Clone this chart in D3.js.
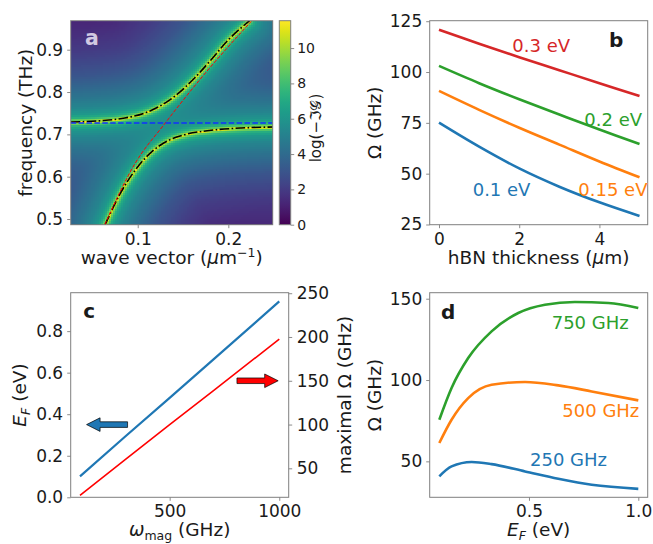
<!DOCTYPE html>
<html>
<head>
<meta charset="utf-8">
<script src="https://cdn.jsdelivr.net/npm/d3@7"></script>
<style>
  body { margin: 0; background: #fff; }
  svg text { font-family: "DejaVu Sans", sans-serif; fill: #1a1a1a; }
</style>
</head>
<body>
<svg id="fig" width="653" height="544"></svg>
<script>
// ---- panel a : polariton branches (k in 1/um, f in THz)
const magnonF = 0.7268
const upperK = [0.026, 0.0599, 0.0857, 0.1077, 0.126, 0.1408, 0.1628, 0.1811, 0.1996, 0.2235]
const upperF = [0.7292, 0.7323, 0.7386, 0.7504, 0.7686, 0.790, 0.8332, 0.8764, 0.9222, 0.9685]
const lowerK = [0.0640, 0.0800, 0.0990, 0.1160, 0.1334, 0.1518, 0.1811, 0.2142, 0.249]
const lowerF = [0.4866, 0.5575, 0.6205, 0.6600, 0.6850, 0.6992, 0.7096, 0.7150, 0.7174]
const plasmonK = [0.0636, 0.0967, 0.1304, 0.1701, 0.2253]
const plasmonF = [0.4866, 0.6300, 0.7268, 0.8332, 0.9670]
// how log(-Im G) falls off with distance (px) from a branch, estimated from the map
const heatDist = [0, 1.5, 4, 8, 15, 25, 45, 70, 100, 140]
const heatLevel = [11.5, 9.2, 7.3, 6.1, 5.2, 4.4, 3.0, 1.8, 0.8, 0.2]
const cbarTicks = [0, 2, 4, 6, 8, 10]

// ---- panel b : Omega vs hBN thickness
const thickness = [0, 1, 2, 3, 4, 5]
const bSeries = [
  { name: '0.3 eV',  color: '#d62728', vals: [120.8, 113.9, 107.3, 100.9, 94.5, 88.2] },
  { name: '0.2 eV',  color: '#2ca02c', vals: [103.0, 94.5, 86.6, 79.1, 71.7, 64.6] },
  { name: '0.15 eV', color: '#ff7f0e', vals: [90.7, 81.4, 72.6, 64.3, 56.0, 48.2] },
  { name: '0.1 eV',  color: '#1f77b4', vals: [75.1, 63.3, 52.6, 43.6, 35.9, 29.2] }
]

// ---- panel c : optimal E_F and maximal Omega vs magnon frequency
const omegaMag = [91, 300, 500, 700, 1000]
const optimalEF = [0.101, 0.295, 0.479, 0.664, 0.943]
const maxOmega = [19.2, 60.5, 99.8, 138.7, 197.6]

// ---- panel d : Omega vs E_F
const dSeries = [
  { name: '750 GHz', color: '#2ca02c',
    ef: [0.09, 0.146, 0.222, 0.329, 0.451, 0.573, 0.71, 0.863, 1.0],
    vals: [75.6, 95.1, 113.5, 129.9, 141.2, 146.3, 148.0, 147.4, 144.3] },
  { name: '500 GHz', color: '#ff7f0e',
    ef: [0.09, 0.146, 0.222, 0.329, 0.482, 0.634, 0.787, 1.0],
    vals: [61.3, 75.6, 88.9, 97.1, 98.8, 96.7, 93.0, 87.5] },
  { name: '250 GHz', color: '#1f77b4',
    ef: [0.09, 0.146, 0.238, 0.329, 0.482, 0.634, 0.787, 1.0],
    vals: [40.8, 46.9, 49.6, 48.3, 43.8, 39.3, 35.6, 33.1] }
]

const svg = d3.select('#fig')
const spine = '#7f7f7f'
const tickFont = 17, labelFont = 18.5, noteFont = 18

const A = { x0: 70.7, x1: 272.7, y0: 20.7, y1: 224.7 }
const B = { x0: 429.7, x1: 647.7, y0: 20.7, y1: 224.7 }
const C = { x0: 70.7, x1: 288.7, y0: 292.7, y1: 497.3 }
const D = { x0: 429.7, x1: 647.7, y0: 292.7, y1: 497.3 }

function styleAxis(g, size) {
  g.attr('font-family', '"DejaVu Sans", sans-serif').attr('font-size', size || tickFont)
  g.select('.domain').remove()
  g.selectAll('.tick line').attr('stroke', spine).attr('stroke-width', 0.9)
  g.selectAll('.tick text').attr('fill', '#1a1a1a')
}

function bottomAxis(P, x, ticks, fmt) {
  svg.append('g').attr('transform', `translate(0,${P.y1})`)
    .call(d3.axisBottom(x).tickValues(ticks).tickFormat(fmt).tickSize(3.5).tickPadding(4.3))
    .call(styleAxis)
}
function leftAxis(P, y, ticks, fmt) {
  svg.append('g').attr('transform', `translate(${P.x0},0)`)
    .call(d3.axisLeft(y).tickValues(ticks).tickFormat(fmt).tickSize(3.5).tickPadding(4))
    .call(styleAxis)
}
function frame(P) {
  svg.append('rect').attr('x', P.x0).attr('y', P.y0)
    .attr('width', P.x1 - P.x0).attr('height', P.y1 - P.y0)
    .attr('fill', 'none').attr('stroke', spine).attr('stroke-width', 1)
}
function clip(id, P) {
  svg.append('clipPath').attr('id', id).append('rect')
    .attr('x', P.x0).attr('y', P.y0).attr('width', P.x1 - P.x0).attr('height', P.y1 - P.y0)
}
function vlabel(x, y, parts) {
  const t = svg.append('text').attr('transform', `translate(${x},${y}) rotate(-90)`)
    .attr('text-anchor', 'middle').attr('font-size', labelFont)
  parts(t)
}
function hlabel(x, y, parts) {
  const t = svg.append('text').attr('x', x).attr('y', y)
    .attr('text-anchor', 'middle').attr('font-size', labelFont)
  parts(t)
}
const efLabel = t => {
  t.append('tspan').attr('font-style', 'italic').text('E')
  t.append('tspan').attr('font-style', 'italic').attr('font-size', 12.5).attr('dy', 4).text('F')
  t.append('tspan').attr('dy', -4).text(' (eV)')
}

// ================= panel a =================
const xA = d3.scaleLinear().domain([0.026, 0.249]).range([A.x0, A.x1])
const yA = d3.scaleLinear().domain([0.4866, 0.9685]).range([A.y1, A.y0])
const cA = d3.scaleLinear().domain([0, 11.55]).range([A.y1, A.y0])
clip('clipA', A)

const heatG = svg.append('g')
const lineA = svg.append('g').attr('clip-path', 'url(#clipA)')
const branchLine = d3.line().x(d => xA(d[0])).y(d => yA(d[1])).curve(d3.curveMonotoneX)

const upperPath = lineA.append('path').datum(d3.zip(upperK, upperF))
  .attr('d', branchLine).attr('fill', 'none').attr('stroke', '#000')
  .attr('stroke-width', 1.6).attr('stroke-dasharray', '9.6,2.4,1.6,2.4')
const lowerPath = lineA.append('path').datum(d3.zip(lowerK, lowerF))
  .attr('d', branchLine).attr('fill', 'none').attr('stroke', '#000')
  .attr('stroke-width', 1.6).attr('stroke-dasharray', '9.6,2.4,1.6,2.4')
lineA.append('path').datum(d3.zip(plasmonK, plasmonF))
  .attr('d', branchLine).attr('fill', 'none').attr('stroke', '#ff0000')
  .attr('stroke-width', 1).attr('stroke-dasharray', '3.7,1.6')
lineA.append('line').attr('x1', A.x0).attr('x2', A.x1)
  .attr('y1', yA(magnonF)).attr('y2', yA(magnonF))
  .attr('stroke', '#1030ff').attr('stroke-width', 1.5).attr('stroke-dasharray', '5.5,2.4')

// sample the branch curves and build the log(-Im G) map around them
function samples(node) {
  const L = node.getTotalLength(), pts = []
  for (let s = 0; s <= L; s += 1) { const p = node.getPointAtLength(s); pts.push([p.x, p.y]) }
  return pts
}
const falloff = d3.scaleLinear().domain(heatDist).range(heatLevel).clamp(true)
const branchPts = [samples(upperPath.node()), samples(lowerPath.node())]
const cell = 2
const cells = []
for (let px = A.x0; px < A.x1; px += cell) {
  for (let py = A.y0; py < A.y1; py += cell) {
    const k = xA.invert(px + cell / 2), f = yA.invert(py + cell / 2)
    let g = 0
    branchPts.forEach(pts => {
      let m = Infinity
      for (const p of pts) {
        const dx = p[0] - xA(k), dy = p[1] - yA(f)
        const d2 = dx * dx + dy * dy
        if (d2 < m) m = d2
      }
      g += Math.exp(falloff(Math.sqrt(m)))
    })
    cells.push({ k, f, v: Math.max(0, Math.min(11.55, Math.log(g))) })
  }
}
const color = d3.scaleSequential(d3.interpolateViridis).domain([0, 11.55])
heatG.selectAll('rect').data(cells).enter().append('rect')
  .attr('x', d => xA(d.k) - cell / 2).attr('y', d => yA(d.f) - cell / 2)
  .attr('width', cell + 0.3).attr('height', cell + 0.3)
  .attr('fill', d => color(d.v)).attr('shape-rendering', 'crispEdges')

frame(A)
bottomAxis(A, xA, [0.1, 0.2], d3.format('.1f'))
leftAxis(A, yA, [0.5, 0.6, 0.7, 0.8, 0.9], d3.format('.1f'))
svg.append('text').attr('x', 85).attr('y', 45.3).attr('font-size', 20.5)
  .attr('font-weight', 'bold').style('fill', 'rgba(235,230,245,0.85)').text('a')
vlabel(31.7, 122.7, t => t.text('frequency (THz)'))
hlabel(171.7, 263.5, t => {
  t.append('tspan').text('wave vector (')
  t.append('tspan').attr('font-style', 'italic').text('μ')
  t.append('tspan').text('m')
  t.append('tspan').attr('font-size', 12.5).attr('dy', -7).text('−1')
  t.append('tspan').attr('dy', 7).text(')')
})

// colorbar
const cb = { x0: 279.3, x1: 290.7 }
const grad = svg.append('defs').append('linearGradient').attr('id', 'vir')
  .attr('x1', 0).attr('y1', 1).attr('x2', 0).attr('y2', 0)
d3.range(0, 1.0001, 0.05).forEach(t => grad.append('stop')
  .attr('offset', t).attr('stop-color', d3.interpolateViridis(t)))
svg.append('rect').attr('x', cb.x0).attr('y', A.y0).attr('width', cb.x1 - cb.x0)
  .attr('height', A.y1 - A.y0).attr('fill', 'url(#vir)')
  .attr('stroke', spine).attr('stroke-width', 1)
svg.append('g').attr('transform', `translate(${cb.x1},0)`)
  .call(d3.axisRight(cA).tickValues(cbarTicks).tickSize(3.5).tickPadding(3))
  .call(g => styleAxis(g, 14))
svg.append('text').attr('transform', `translate(321,128) rotate(-90)`)
  .attr('text-anchor', 'middle').attr('font-size', 15).text('log(−ℑ𝒢)')

// ================= panel b =================
const xB = d3.scaleLinear().domain([-0.232, 5.204]).range([B.x0, B.x1])
const yB = d3.scaleLinear().domain([24.9, 125.25]).range([B.y1, B.y0])
const lineB = d3.line().x((d, i) => xB(thickness[i])).y(d => yB(d)).curve(d3.curveCatmullRom)
svg.append('g').selectAll('path').data(bSeries).enter().append('path')
  .attr('d', d => lineB(d.vals)).attr('fill', 'none')
  .attr('stroke', d => d.color).attr('stroke-width', 2.6)
frame(B)
bottomAxis(B, xB, [0, 2, 4], d3.format('d'))
leftAxis(B, yB, [25, 50, 75, 100, 125], d3.format('d'))
const bNotes = [[512.3, 52], [584.3, 125.7], [578.3, 195.7], [472.7, 195.7]]
svg.append('g').selectAll('text').data(bSeries).enter().append('text')
  .attr('x', (d, i) => bNotes[i][0]).attr('y', (d, i) => bNotes[i][1])
  .attr('font-size', noteFont).style('fill', d => d.color).text(d => d.name)
svg.append('text').attr('x', 609).attr('y', 46.7).attr('font-size', 20)
  .attr('font-weight', 'bold').text('b')
vlabel(381, 122.7, t => t.text('Ω (GHz)'))
hlabel(538.7, 263.5, t => {
  t.append('tspan').text('hBN thickness (')
  t.append('tspan').attr('font-style', 'italic').text('μ')
  t.append('tspan').text('m)')
})

// ================= panel c =================
const xC = d3.scaleLinear().domain([48.6, 1043]).range([C.x0, C.x1])
const yC = d3.scaleLinear().domain([0, 0.985]).range([C.y1, C.y0])
const yC2 = d3.scaleLinear().domain([16.9, 250.6]).range([C.y1, C.y0])
svg.append('path').datum(optimalEF)
  .attr('d', d3.line().x((d, i) => xC(omegaMag[i])).y(d => yC(d)))
  .attr('fill', 'none').attr('stroke', '#1f77b4').attr('stroke-width', 2.2)
svg.append('path').datum(maxOmega)
  .attr('d', d3.line().x((d, i) => xC(omegaMag[i])).y(d => yC2(d)))
  .attr('fill', 'none').attr('stroke', '#ff0000').attr('stroke-width', 1.6)

function arrow(x1, x2, y, color) {
  const dir = Math.sign(x2 - x1), head = 13.5, hw = 6.8, bw = 2.8
  const hx = x2 - dir * head
  const pts = [[x1, y - bw], [hx, y - bw], [hx, y - hw], [x2, y], [hx, y + hw], [hx, y + bw], [x1, y + bw]]
  svg.append('path').attr('d', d3.line()(pts) + 'Z')
    .attr('fill', color).attr('stroke', '#000').attr('stroke-width', 0.7)
}
arrow(xC(308), xC(121), yC(0.35), '#1f77b4')
arrow(xC(807), xC(995), yC2(150), '#ff0000')

frame(C)
bottomAxis(C, xC, [500, 1000], d3.format('d'))
leftAxis(C, yC, [0, 0.2, 0.4, 0.6, 0.8], d3.format('.1f'))
svg.append('g').attr('transform', `translate(${C.x1},0)`)
  .call(d3.axisRight(yC2).tickValues([50, 100, 150, 200, 250]).tickSize(3.5).tickPadding(4.5))
  .call(styleAxis)
svg.append('text').attr('x', 83.3).attr('y', 318).attr('font-size', 20)
  .attr('font-weight', 'bold').text('c')
vlabel(25.5, 395, efLabel)
vlabel(351, 395, t => t.text('maximal Ω (GHz)'))
hlabel(179.7, 536, t => {
  t.append('tspan').attr('font-style', 'italic').text('ω')
  t.append('tspan').attr('font-size', 12.5).attr('dy', 4).text('mag')
  t.append('tspan').attr('dy', -4).text(' (GHz)')
})

// ================= panel d =================
const xD = d3.scaleLinear().domain([0.046, 1.043]).range([D.x0, D.x1])
const yD = d3.scaleLinear().domain([27.9, 153.7]).range([D.y1, D.y0])
svg.append('g').selectAll('path').data(dSeries).enter().append('path')
  .attr('d', s => d3.line().x((d, i) => xD(s.ef[i])).y(d => yD(d)).curve(d3.curveMonotoneX)(s.vals))
  .attr('fill', 'none').attr('stroke', d => d.color).attr('stroke-width', 2.6)
frame(D)
bottomAxis(D, xD, [0.5, 1.0], d3.format('.1f'))
leftAxis(D, yD, [50, 100, 150], d3.format('d'))
const dNotes = [[551.7, 328.7], [562.3, 417], [530, 466.3]]
svg.append('g').selectAll('text').data(dSeries).enter().append('text')
  .attr('x', (d, i) => dNotes[i][0]).attr('y', (d, i) => dNotes[i][1])
  .attr('font-size', noteFont).style('fill', d => d.color).text(d => d.name)
svg.append('text').attr('x', 441).attr('y', 318.7).attr('font-size', 20)
  .attr('font-weight', 'bold').text('d')
vlabel(380.5, 395, t => t.text('Ω (GHz)'))
hlabel(538.7, 536, efLabel)
</script>
</body>
</html>
